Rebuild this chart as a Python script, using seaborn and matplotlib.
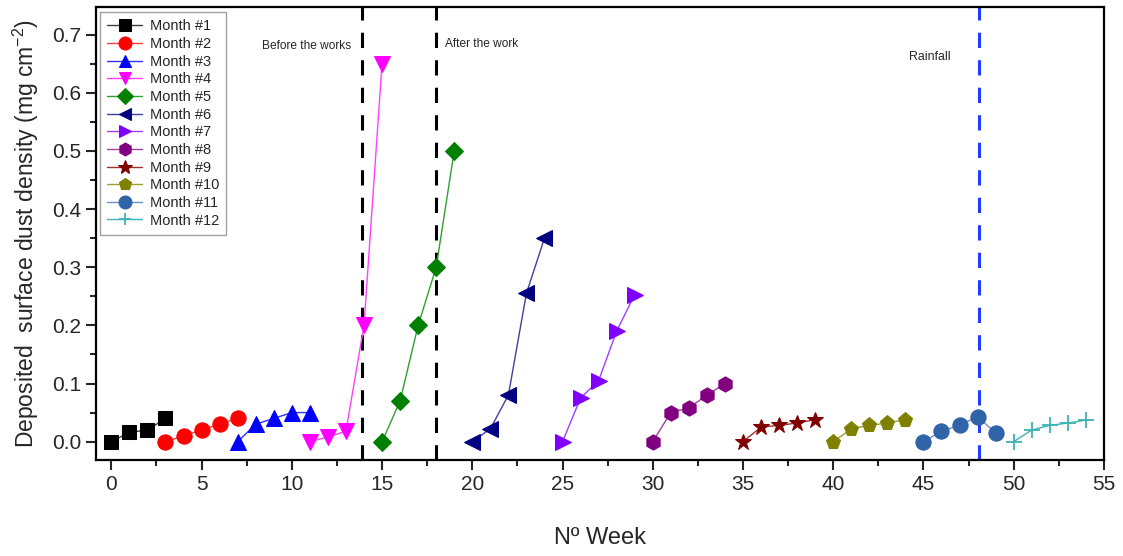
import matplotlib
matplotlib.use("Agg")
import matplotlib.pyplot as plt
import seaborn as sns
import pandas as pd
from matplotlib.ticker import MultipleLocator

sns.set_style("white")
plt.rcParams['font.family'] = ['Liberation Sans', 'DejaVu Sans']

labels = ["Month #1", "Month #2", "Month #3", "Month #4", "Month #5", "Month #6",
          "Month #7", "Month #8", "Month #9", "Month #10", "Month #11", "Month #12"]
weeks = [
    [0, 1, 2, 3],
    [3, 4, 5, 6, 7],
    [7, 8, 9, 10, 11],
    [11, 12, 13, 14, 15],
    [15, 16, 17, 18, 19],
    [20, 21, 22, 23, 24],
    [25, 26, 27, 28, 29],
    [30, 31, 32, 33, 34],
    [35, 36, 37, 38, 39],
    [40, 41, 42, 43, 44],
    [45, 46, 47, 48, 49],
    [50, 51, 52, 53, 54],
]
density = [
    [0.0, 0.016, 0.02, 0.04],
    [0.0, 0.01, 0.02, 0.03, 0.04],
    [0.0, 0.03, 0.04, 0.05, 0.05],
    [0.0, 0.008, 0.018, 0.2, 0.65],
    [0.0, 0.07, 0.2, 0.3, 0.5],
    [0.0, 0.022, 0.08, 0.255, 0.35],
    [0.0, 0.075, 0.105, 0.19, 0.253],
    [0.0, 0.05, 0.058, 0.08, 0.1],
    [0.0, 0.025, 0.028, 0.032, 0.038],
    [0.0, 0.022, 0.028, 0.032, 0.038],
    [0.0, 0.018, 0.028, 0.043, 0.015],
    [0.0, 0.02, 0.028, 0.032, 0.037],
]
event_x = [13.9, 18.0, 48.1]
event_labels = ["Before the works", "After the work", "Rainfall"]

marker_colors = ["#000000", "#ff0000", "#0000ff", "#ff00ff", "#008000", "#000080",
                 "#8000ff", "#800080", "#800000", "#808000", "#2f64a8", "#3db3b3"]
line_colors = ["#404040", "#ff4040", "#3030ff", "#ff40ff", "#30a030", "#4040a0",
               "#a040ff", "#a040a0", "#a03030", "#a0a030", "#7090c8", "#3db3b3"]
markers = ["s", "o", "^", "v", "D", "<", ">", "h", "*", "p", "o", "+"]
msizes = [10, 11, 11, 11, 9, 11, 11, 11, 12, 11, 11, 11]

fig = plt.figure(figsize=(11.23, 5.56), dpi=100)
ax = fig.add_axes([0.0855, 0.1727, 0.8975, 0.8143])

for i in range(len(labels)):
    df = pd.DataFrame({"week": weeks[i], "val": density[i]})
    kw = dict(marker=markers[i], markersize=msizes[i], markerfacecolor=marker_colors[i],
              markeredgecolor=marker_colors[i], color=line_colors[i], linewidth=1.0,
              label=labels[i])
    if markers[i] == "+":
        kw["markeredgewidth"] = 1.3
    sns.lineplot(data=df, x="week", y="val", ax=ax, **kw)

ax.axvline(event_x[0], color="black", ls=(0, (5, 4)), lw=2.2, zorder=1)
ax.axvline(event_x[1], color="black", ls=(0, (5, 4)), lw=2.2, zorder=1)
ax.axvline(event_x[2], color="#1f3cff", ls=(0, (5, 4)), lw=2.2, zorder=1)

ax.text(8.37, 0.680, event_labels[0], fontsize=8.6, ha="left", va="center")
ax.text(18.5, 0.684, event_labels[1], fontsize=8.6, ha="left", va="center")
ax.text(44.2, 0.661, event_labels[2], fontsize=8.9, ha="left", va="center")

ax.set_xlim(-0.85, 55)
ax.set_ylim(-0.0315, 0.747)
ax.xaxis.set_major_locator(MultipleLocator(5))
ax.xaxis.set_minor_locator(MultipleLocator(2.5))
ax.yaxis.set_major_locator(MultipleLocator(0.1))
ax.yaxis.set_minor_locator(MultipleLocator(0.05))
ax.yaxis.set_major_formatter(matplotlib.ticker.FormatStrFormatter('%.1f'))
ax.tick_params(which="major", direction="out", length=7, width=1.5, labelsize=15,
               bottom=True, left=True, top=False, right=False)
ax.tick_params(which="minor", direction="out", length=4, width=1.5,
               bottom=True, left=True, top=False, right=False)
for s in ax.spines.values():
    s.set_linewidth(1.6)
    s.set_color("black")

ax.set_xlabel("Nº Week", fontsize=17, labelpad=24)
ax.set_ylabel("Deposited  surface dust density (mg cm$^{\\mathregular{-2}}$)",
              fontsize=16.5, labelpad=8)

leg = ax.legend(loc="upper left", fontsize=10.5, frameon=True, fancybox=False,
                edgecolor="#888888", handlelength=2.4, labelspacing=0.25,
                borderpad=0.5, markerscale=0.85, borderaxespad=0,
                handletextpad=0.5, bbox_to_anchor=(0.004, 0.989))
leg.get_frame().set_linewidth(1.0)

fig.savefig("out.png", dpi=100)
